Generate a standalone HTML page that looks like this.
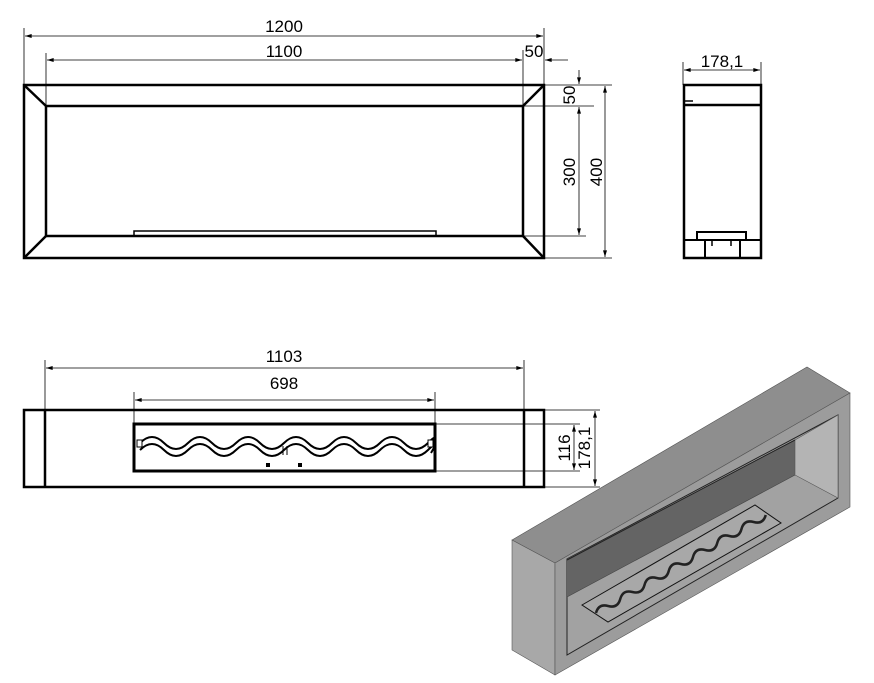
<!DOCTYPE html>
<html><head><style>html,body{margin:0;padding:0;background:#fff;width:874px;height:683px;overflow:hidden}</style></head>
<body>
<svg width="874" height="683" viewBox="0 0 874 683" xmlns="http://www.w3.org/2000/svg" font-family="Liberation Sans, Arial, sans-serif">
<defs>
<marker id="a" viewBox="0 0 10 6" refX="10" refY="3" markerWidth="8" markerHeight="4" orient="auto-start-reverse" markerUnits="userSpaceOnUse"><path d="M0,0L10,3L0,6z" fill="#000"/></marker>
</defs>
<g stroke="#000" fill="none">
<rect x="24" y="85" width="520" height="173" stroke-width="2.5"/>
<rect x="46" y="106" width="477" height="130" stroke-width="2.5"/>
<line x1="24" y1="85" x2="46" y2="106" stroke-width="2.5"/>
<line x1="544" y1="85" x2="523" y2="106" stroke-width="2.5"/>
<line x1="24" y1="258" x2="46" y2="236" stroke-width="2.5"/>
<line x1="544" y1="258" x2="523" y2="236" stroke-width="2.5"/>
<rect x="134" y="231" width="302" height="5" stroke-width="1.5"/>
<g stroke-width="0.8">
<line x1="24" y1="28" x2="24" y2="85"/><line x1="544" y1="28" x2="544" y2="85"/>
<line x1="25" y1="36" x2="543" y2="36" marker-start="url(#a)" marker-end="url(#a)"/>
<line x1="46" y1="53" x2="46" y2="106"/><line x1="523" y1="50" x2="523" y2="106"/>
<line x1="47" y1="60" x2="522" y2="60" marker-start="url(#a)" marker-end="url(#a)"/>
<line x1="545" y1="60" x2="568" y2="60" marker-start="url(#a)"/>
<line x1="544" y1="85" x2="612" y2="85"/><line x1="523" y1="106" x2="594" y2="106"/><line x1="523" y1="236" x2="586" y2="236"/><line x1="544" y1="258" x2="612" y2="258"/>
<line x1="579" y1="70" x2="579" y2="84" marker-end="url(#a)"/>
<line x1="579" y1="107" x2="579" y2="235" marker-start="url(#a)" marker-end="url(#a)"/>
<line x1="605" y1="86" x2="605" y2="257" marker-start="url(#a)" marker-end="url(#a)"/>
</g>
<rect x="684" y="85" width="77" height="173" stroke-width="2.5"/>
<line x1="684" y1="105" x2="761" y2="105" stroke-width="2.5"/>
<line x1="684" y1="101" x2="693" y2="101" stroke-width="1.5"/>
<rect x="697" y="232" width="49" height="8" stroke-width="2"/>
<line x1="684" y1="240" x2="761" y2="240" stroke-width="2"/>
<line x1="705" y1="240" x2="705" y2="258" stroke-width="2"/>
<line x1="740" y1="240" x2="740" y2="258" stroke-width="2"/>
<line x1="712" y1="240" x2="712" y2="246" stroke-width="1.5"/>
<line x1="731" y1="240" x2="731" y2="246" stroke-width="1.5"/>
<g stroke-width="0.8">
<line x1="683" y1="62" x2="683" y2="85"/><line x1="761" y1="62" x2="761" y2="85"/>
<line x1="684" y1="70" x2="760" y2="70" marker-start="url(#a)" marker-end="url(#a)"/>
</g>
<rect x="24" y="410" width="520" height="77" stroke-width="2.5"/>
<line x1="45" y1="410" x2="45" y2="487" stroke-width="2.5"/>
<line x1="524" y1="410" x2="524" y2="487" stroke-width="2.5"/>
<rect x="134" y="424" width="301" height="47" stroke-width="3"/>
<g stroke-width="0.8">
<line x1="45" y1="360" x2="45" y2="410"/><line x1="524" y1="360" x2="524" y2="410"/>
<line x1="46" y1="368" x2="523" y2="368" marker-start="url(#a)" marker-end="url(#a)"/>
<line x1="134" y1="392" x2="134" y2="424"/><line x1="435" y1="392" x2="435" y2="424"/>
<line x1="135" y1="400" x2="434" y2="400" marker-start="url(#a)" marker-end="url(#a)"/>
<line x1="544" y1="410" x2="600" y2="410"/><line x1="435" y1="424" x2="580" y2="424"/><line x1="435" y1="471" x2="580" y2="471"/><line x1="544" y1="487" x2="600" y2="487"/>
<line x1="574" y1="425" x2="574" y2="470" marker-start="url(#a)" marker-end="url(#a)"/>
<line x1="595" y1="411" x2="595" y2="486" marker-start="url(#a)" marker-end="url(#a)"/>
</g>
<path d="M140,443 q12,-12 24,0 t24,0 t24,0 t24,0 t24,0 t24,0 t24,0 t24,0 t24,0 t24,0 t24,0 t24,0 t3,3" stroke-width="2"/>
<path d="M140,450 q12,-12 24,0 t24,0 t24,0 t24,0 t24,0 t24,0 t24,0 t24,0 t24,0 t24,0 t24,0 t24,0 t3,3" stroke-width="2"/>
<rect x="137" y="440" width="5" height="7" stroke-width="1" fill="#fff"/><rect x="428" y="440" width="5" height="7" stroke-width="1" fill="#fff"/>
<line x1="283" y1="446" x2="283" y2="455" stroke-width="1"/><line x1="287" y1="446" x2="287" y2="455" stroke-width="1"/>
</g>
<rect x="266" y="463" width="4" height="4" fill="#000"/><rect x="298" y="463" width="4" height="4" fill="#000"/>
<g font-size="17" fill="#000" text-anchor="middle">
<text x="284" y="32">1200</text>
<text x="284" y="57">1100</text>
<text x="534" y="57">50</text>
<text x="722" y="67">178,1</text>
<text x="284" y="362">1103</text>
<text x="284" y="389">698</text>
<text transform="translate(575,95) rotate(-90)">50</text>
<text transform="translate(575,172) rotate(-90)">300</text>
<text transform="translate(602,172) rotate(-90)">400</text>
<text transform="translate(570,448) rotate(-90)">116</text>
<text transform="translate(590,448) rotate(-90)">178,1</text>
</g>
<g stroke="#555" stroke-width="0.6">
<polygon points="512,540 807,367 850,393 555,563" fill="#8e8e8e"/>
<polygon points="512,540 555,563 555,675 512,650" fill="#a8a8a8"/>
<polygon points="555,563 850,393 850,507 555,675" fill="#9c9c9c"/>
<polygon points="567,559 838,415 838,498 567,655" fill="#a2a2a2" stroke="#222" stroke-width="1"/>
<polygon points="567,559 795,440 795,475 567,597" fill="#646464" stroke="none"/>
<polygon points="795,440 838,415 838,498 795,475" fill="#b4b4b4"/>
<line x1="567" y1="560" x2="795" y2="440" stroke="#222" stroke-width="1"/>
<line x1="567" y1="597" x2="795" y2="475" stroke="#444"/>
<polygon points="582,605 755,505 781,523 608,622" fill="#a8a8a8" stroke="#111" stroke-width="1"/>
<path d="M0,0 q7,-7 14,0 t14,0 t14,0 t14,0 t14,0 t14,0 t14,0 t14,0 t14,0 t14,0 t14,0 t14,0 t14,0 t14,0" transform="translate(596,613) rotate(-30)" fill="none" stroke="#222" stroke-width="2.5"/>
</g>
</svg>
</body></html>
